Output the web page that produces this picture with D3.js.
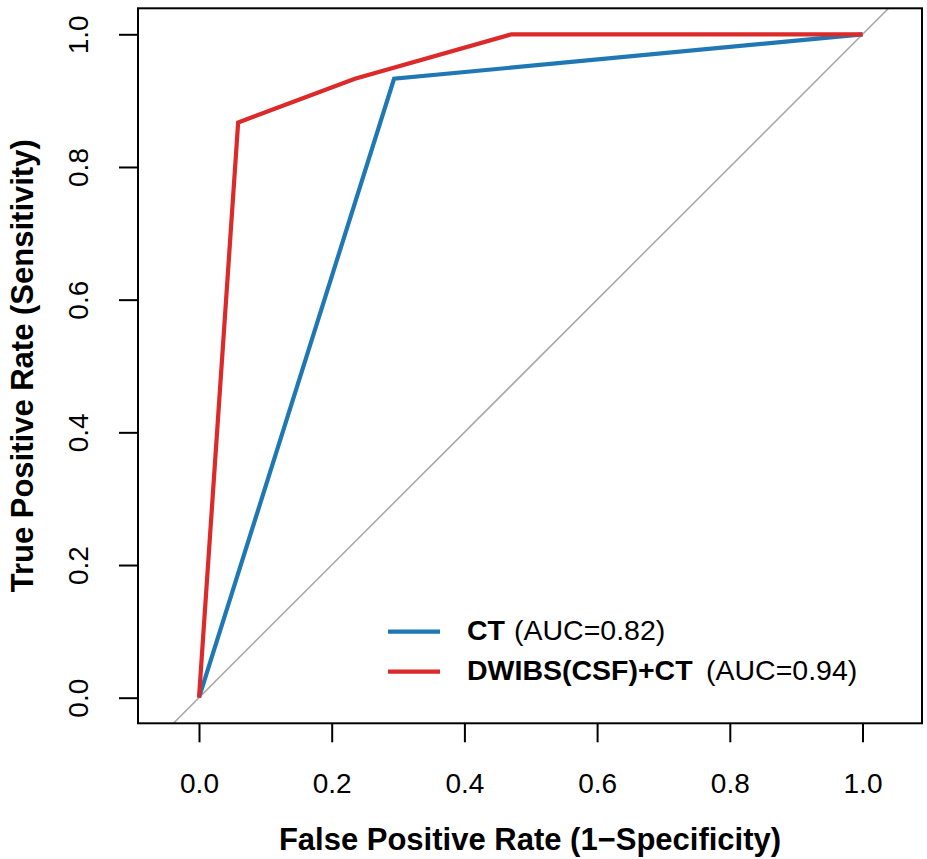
<!DOCTYPE html>
<html><head><meta charset="utf-8">
<script src="https://cdn.jsdelivr.net/npm/d3@7"></script>
<style>body{margin:0;background:#fff}svg{display:block}text{font-family:"Liberation Sans",Arial,sans-serif}</style>
</head><body>
<script>
// Data
const ctFPR = [0, 0.294, 1];
const ctTPR = [0, 0.933, 1];
const comboFPR = [0, 0.059, 0.235, 0.471, 1];
const comboTPR = [0, 0.867, 0.933, 1, 1];
const seriesNames = ["CT", "DWIBS(CSF)+CT"];
const aucLabels = ["(AUC=0.82)", "(AUC=0.94)"];
const seriesColors = ["#1f78b4", "#dc2a2a"];
const tickValues = [0, 0.2, 0.4, 0.6, 0.8, 1.0];
const tickLabels = ["0.0", "0.2", "0.4", "0.6", "0.8", "1.0"];

const W = 927, H = 859;
const svg = d3.select("body").append("svg").attr("width", W).attr("height", H);
const box = {l: 138, r: 922, t: 8.3, b: 723.3};
const x = d3.scaleLinear().domain([0, 1]).range([199, 862.5]);
const y = d3.scaleLinear().domain([0, 1]).range([697.7, 34.3]);

svg.append("defs").append("clipPath").attr("id", "clip")
  .append("rect").attr("x", box.l).attr("y", box.t).attr("width", box.r - box.l).attr("height", box.b - box.t);

// diagonal
svg.append("line").attr("clip-path", "url(#clip)")
  .attr("x1", x(-1)).attr("y1", y(-1)).attr("x2", x(2)).attr("y2", y(2))
  .attr("stroke", "#aaaaaa").attr("stroke-width", 1.6);

const line = d3.line().x(d => x(d[0])).y(d => y(d[1]));
const series = [d3.zip(ctFPR, ctTPR), d3.zip(comboFPR, comboTPR)];
series.forEach((s, i) => {
  svg.append("path").attr("d", line(s)).attr("fill", "none")
    .attr("stroke", seriesColors[i]).attr("stroke-width", 4.2).attr("stroke-linejoin", "miter");
});

// box
svg.append("rect").attr("x", box.l).attr("y", box.t).attr("width", box.r - box.l).attr("height", box.b - box.t)
  .attr("fill", "none").attr("stroke", "#000").attr("stroke-width", 2);

// x axis
const xa = svg.append("g").attr("transform", `translate(0,${box.b})`)
  .call(d3.axisBottom(x).tickValues(tickValues).tickFormat((d, i) => tickLabels[i]).tickSize(19).tickPadding(31));
xa.select(".domain").remove();
xa.selectAll("line").attr("stroke", "#000").attr("stroke-width", 2);
xa.selectAll("text").attr("font-size", 28).attr("fill", "#000").attr("font-family", '"Liberation Sans",Arial,sans-serif');

// y axis
const ya = svg.append("g").attr("transform", `translate(${box.l},0)`)
  .call(d3.axisLeft(y).tickValues(tickValues).tickFormat((d, i) => tickLabels[i]).tickSize(19));
ya.select(".domain").remove();
ya.selectAll("line").attr("stroke", "#000").attr("stroke-width", 2);
ya.selectAll("text").attr("font-size", 28).attr("fill", "#000").attr("font-family", '"Liberation Sans",Arial,sans-serif')
  .attr("x", null).attr("dy", null).attr("text-anchor", "middle")
  .attr("transform", `translate(${88 - box.l},0) rotate(-90)`);

// axis titles
svg.append("text").attr("x", (box.l + box.r) / 2).attr("y", 850).attr("text-anchor", "middle")
  .attr("font-size", 31).attr("font-weight", "bold").text("False Positive Rate (1\u2212Specificity)");
svg.append("text").attr("transform", `translate(33,${(box.t + box.b) / 2}) rotate(-90)`).attr("text-anchor", "middle")
  .attr("font-size", 31).attr("font-weight", "bold").text("True Positive Rate (Sensitivity)");

// legend
const legY = [631.7, 671.7];
const aucX = [514, 706];
seriesNames.forEach((n, i) => {
  svg.append("line").attr("x1", 388).attr("x2", 440).attr("y1", legY[i]).attr("y2", legY[i])
    .attr("stroke", seriesColors[i]).attr("stroke-width", 4.2);
  svg.append("text").attr("x", 467).attr("y", legY[i] + 8.5).attr("font-size", 28.5)
    .attr("font-weight", "bold").attr("fill", "#000").text(n);
  svg.append("text").attr("x", aucX[i]).attr("y", legY[i] + 8.5).attr("font-size", 28.5)
    .attr("fill", "#000").text(aucLabels[i]);
});
</script>
</body></html>
